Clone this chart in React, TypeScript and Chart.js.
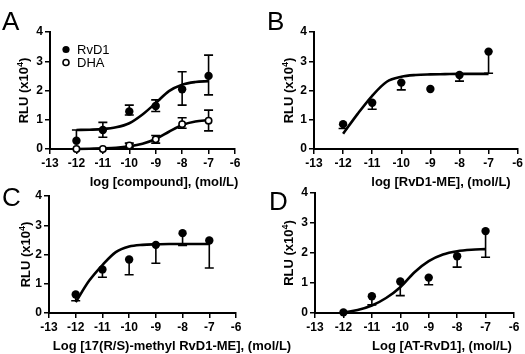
import React, { useEffect, useRef } from "react";
import { Chart, registerables } from "chart.js";

Chart.register(...registerables);

const FONT = '"Liberation Sans", Arial, Helvetica, sans-serif';

// ---- shared axes ----
const X_TICKS = [-13, -12, -11, -10, -9, -8, -7, -6];
const Y_TICKS = [0, 1, 2, 3, 4];
const DOSES = [-12, -11, -10, -9, -8, -7];
const FIT_X = [-12, -11.5, -11, -10.5, -10, -9.5, -9, -8.5, -8, -7.5, -7];

// ---- panel A ----
const A_RVD1 = [0.28, 0.65, 1.28, 1.47, 2.04, 2.5];
const A_RVD1_LO = [0.28, 0.4, 1.16, 1.28, 1.5, 1.85];
const A_RVD1_HI = [0.65, 0.91, 1.5, 1.68, 2.64, 3.21];
const A_RVD1_FIT = [0.65, 0.66, 0.68, 0.74, 0.88, 1.18, 1.57, 1.98, 2.2, 2.29, 2.32];
const A_DHA = [0, 0, 0.12, 0.33, 0.85, 0.97];
const A_DHA_LO = [0, 0, 0.04, 0.2, 0.71, 0.62];
const A_DHA_HI = [0, 0, 0.2, 0.46, 1.07, 1.33];
const A_DHA_FIT = [0.0, 0.01, 0.02, 0.04, 0.09, 0.18, 0.34, 0.59, 0.82, 0.94, 0.99];

// ---- panel B ----
const B_Y = [0.85, 1.58, 2.27, 2.05, 2.53, 3.33];
const B_LO = [0.7, 1.36, 2.02, 2.05, 2.32, 2.59];
const B_HI = [0.85, 1.58, 2.27, 2.05, 2.53, 3.33];
const B_FIT = [0.52, 1.2, 1.82, 2.3, 2.47, 2.53, 2.55, 2.56, 2.57, 2.57, 2.57];

// ---- panel C ----
const C_Y = [0.63, 1.49, 1.83, 2.33, 2.73, 2.48];
const C_LO = [0.42, 1.22, 1.31, 1.7, 2.31, 1.54];
const C_HI = [0.63, 1.49, 1.83, 2.33, 2.73, 2.48];
const C_FIT = [0.37, 1.1, 1.64, 2.08, 2.27, 2.33, 2.35, 2.36, 2.36, 2.36, 2.36];

// ---- panel D ----
const D_Y = [0.02, 0.56, 1.05, 1.18, 1.89, 2.73];
const D_LO = [0.02, 0.27, 0.58, 0.94, 1.53, 1.86];
const D_HI = [0.02, 0.56, 1.05, 1.18, 1.89, 2.73];
const D_FIT = [0.02, 0.1, 0.25, 0.5, 0.86, 1.36, 1.73, 1.95, 2.06, 2.11, 2.13];

type Series = { label: string; y: number[]; lo: number[]; hi: number[]; fit: number[]; open?: boolean };
type Panel = {
  letter: string;
  left: number; top: number; width: number; height: number;
  area: { left: number; right: number; top: number; bottom: number };
  letterPos: [number, number];
  xTitle: string; xTitlePos: [number, number];
  yTitleX: number;
  series: Series[];
  legend?: boolean;
};

const PANELS: Panel[] = [
  {
    letter: "A", left: 0, top: 0, width: 262, height: 195,
    area: { left: 50, right: 235, top: 32, bottom: 149 },
    letterPos: [2, 30],
    xTitle: "log [compound], (mol/L)", xTitlePos: [164, 185.5],
    yTitleX: 23,
    series: [
      { label: "RvD1", y: A_RVD1, lo: A_RVD1_LO, hi: A_RVD1_HI, fit: A_RVD1_FIT },
      { label: "DHA", y: A_DHA, lo: A_DHA_LO, hi: A_DHA_HI, fit: A_DHA_FIT, open: true },
    ],
    legend: true,
  },
  {
    letter: "B", left: 262, top: 0, width: 263, height: 195,
    area: { left: 52, right: 257, top: 32, bottom: 149 },
    letterPos: [5, 30],
    xTitle: "log [RvD1-ME], (mol/L)", xTitlePos: [179, 185.5],
    yTitleX: 26.5,
    series: [{ label: "RvD1-ME", y: B_Y, lo: B_LO, hi: B_HI, fit: B_FIT }],
  },
  {
    letter: "C", left: 0, top: 177, width: 310, height: 177,
    area: { left: 49, right: 236, top: 19, bottom: 136 },
    letterPos: [2, 29],
    xTitle: "Log [17(R/S)-methyl RvD1-ME], (mol/L)", xTitlePos: [172, 173],
    yTitleX: 25,
    series: [{ label: "17(R/S)-methyl RvD1-ME", y: C_Y, lo: C_LO, hi: C_HI, fit: C_FIT }],
  },
  {
    letter: "D", left: 262, top: 177, width: 263, height: 177,
    area: { left: 53, right: 252, top: 16, bottom: 136 },
    letterPos: [7, 33],
    xTitle: "Log [AT-RvD1], (mol/L)", xTitlePos: [180, 173],
    yTitleX: 26.5,
    series: [{ label: "AT-RvD1", y: D_Y, lo: D_LO, hi: D_HI, fit: D_FIT }],
  },
];

const X_SCALE_H = 20;

function makeDecor(p: Panel) {
  return {
    id: "decor",
    beforeDatasetsDraw(chart: any) {
      const ctx = chart.ctx;
      const xs = chart.scales.x;
      const ys = chart.scales.y;
      ctx.save();
      ctx.strokeStyle = "#000";
      ctx.lineWidth = 1.6;
      const cap = 4.5;
      p.series.forEach((s) => {
        DOSES.forEach((d, i) => {
          const px = xs.getPixelForValue(d);
          const py = ys.getPixelForValue(s.y[i]);
          const ends = [s.lo[i], s.hi[i]];
          ends.forEach((v) => {
            if (Math.abs(v - s.y[i]) < 1e-6) return;
            const pe = ys.getPixelForValue(v);
            ctx.beginPath();
            ctx.moveTo(px, py);
            ctx.lineTo(px, pe);
            ctx.moveTo(px - cap, pe);
            ctx.lineTo(px + cap, pe);
            ctx.stroke();
          });
        });
      });
      ctx.restore();
    },
    afterDraw(chart: any) {
      const ctx = chart.ctx;
      const area = chart.chartArea;
      ctx.save();
      ctx.fillStyle = "#000";
      // panel letter
      ctx.font = `26px ${FONT}`;
      ctx.textAlign = "left";
      ctx.textBaseline = "alphabetic";
      ctx.fillText(p.letter, p.letterPos[0], p.letterPos[1]);
      // x title
      ctx.font = `bold 13px ${FONT}`;
      ctx.textAlign = "center";
      ctx.fillText(p.xTitle, p.xTitlePos[0], p.xTitlePos[1]);
      // y title with superscript
      const cy = (area.top + area.bottom) / 2;
      const main = "RLU (x10";
      const sup = "4";
      const end = ")";
      ctx.font = `bold 13px ${FONT}`;
      const w1 = ctx.measureText(main).width;
      const w3 = ctx.measureText(end).width;
      ctx.font = `bold 9px ${FONT}`;
      const w2 = ctx.measureText(sup).width;
      const total = w1 + w2 + w3;
      ctx.translate(p.yTitleX, cy);
      ctx.rotate(-Math.PI / 2);
      ctx.textAlign = "left";
      const b = 4.7;
      let x0 = -total / 2;
      ctx.font = `bold 13px ${FONT}`;
      ctx.fillText(main, x0, b);
      x0 += w1;
      ctx.font = `bold 9px ${FONT}`;
      ctx.fillText(sup, x0, b - 5);
      x0 += w2;
      ctx.font = `bold 13px ${FONT}`;
      ctx.fillText(end, x0, b);
      ctx.restore();

      if (p.legend) {
        ctx.save();
        const rows = [
          { y: 49.5, open: false, text: p.series[0].label },
          { y: 62.5, open: true, text: p.series[1].label },
        ];
        rows.forEach((r) => {
          ctx.beginPath();
          ctx.arc(66, r.y, r.open ? 3 : 3.6, 0, Math.PI * 2);
          if (r.open) {
            ctx.fillStyle = "#fff";
            ctx.fill();
            ctx.lineWidth = 1.6;
            ctx.strokeStyle = "#000";
            ctx.stroke();
          } else {
            ctx.fillStyle = "#000";
            ctx.fill();
          }
          ctx.fillStyle = "#000";
          ctx.font = `13px ${FONT}`;
          ctx.textAlign = "left";
          ctx.textBaseline = "middle";
          ctx.fillText(r.text, 77, r.y + 0.5);
        });
        ctx.restore();
      }
    },
  };
}

function PanelChart({ p }: { p: Panel }) {
  const ref = useRef<HTMLCanvasElement | null>(null);
  useEffect(() => {
    if (!ref.current) return;
    const datasets: any[] = [];
    p.series.forEach((s) => {
      datasets.push({
        type: "line",
        label: s.label + " fit",
        data: FIT_X.map((x, i) => ({ x, y: s.fit[i] })),
        borderColor: "#000",
        borderWidth: 2.6,
        pointRadius: 0,
        showLine: true,
        fill: false,
        cubicInterpolationMode: "monotone",
        order: 2,
        clip: false,
      });
      datasets.push({
        type: "scatter",
        label: s.label,
        data: DOSES.map((x, i) => ({ x, y: s.y[i] })),
        pointRadius: s.open ? 3.2 : 4.2,
        pointBackgroundColor: s.open ? "#fff" : "#000",
        pointBorderColor: "#000",
        pointBorderWidth: s.open ? 1.6 : 0,
        showLine: false,
        order: 1,
        clip: false,
      });
    });
    const tickFont = { family: FONT, size: 12, weight: "bold" as const };
    const gridCfg = { drawOnChartArea: false, drawTicks: true, tickLength: 5, color: "#000", lineWidth: 1.5 };
    const chart = new Chart(ref.current, {
      type: "scatter",
      data: { datasets },
      plugins: [makeDecor(p)],
      options: {
        responsive: false,
        animation: false,
        devicePixelRatio: 1,
        events: [],
        layout: {
          padding: {
            left: 0,
            top: p.area.top,
            right: p.width - p.area.right,
            bottom: p.height - p.area.bottom - X_SCALE_H,
          },
        },
        plugins: { legend: { display: false }, tooltip: { enabled: false } },
        scales: {
          x: {
            type: "linear",
            min: X_TICKS[0],
            max: X_TICKS[X_TICKS.length - 1],
            afterBuildTicks: (s: any) => {
              s.ticks = X_TICKS.map((v) => ({ value: v }));
            },
            ticks: { font: tickFont, color: "#000", padding: 2, maxRotation: 0, autoSkip: false, callback: (v: any) => String(v) },
            grid: gridCfg,
            border: { display: true, color: "#000", width: 2 },
            afterFit: (s: any) => {
              s.height = X_SCALE_H;
            },
          },
          y: {
            type: "linear",
            min: Y_TICKS[0],
            max: Y_TICKS[Y_TICKS.length - 1],
            afterBuildTicks: (s: any) => {
              s.ticks = Y_TICKS.map((v) => ({ value: v }));
            },
            ticks: { font: tickFont, color: "#000", padding: 2, autoSkip: false, callback: (v: any) => String(v) },
            grid: gridCfg,
            border: { display: true, color: "#000", width: 2 },
            afterFit: (s: any) => {
              s.width = p.area.left;
            },
          },
        },
      } as any,
    });
    return () => chart.destroy();
  }, [p]);
  return (
    <canvas
      ref={ref}
      width={p.width}
      height={p.height}
      style={{ position: "absolute", left: p.left, top: p.top, width: p.width, height: p.height }}
    />
  );
}

export default function App() {
  useEffect(() => {
    document.body.style.margin = "0";
  }, []);
  return (
    <div style={{ position: "relative", width: 525, height: 354, background: "#fff", overflow: "hidden" }}>
      {PANELS.map((p) => (
        <PanelChart key={p.letter} p={p} />
      ))}
    </div>
  );
}
